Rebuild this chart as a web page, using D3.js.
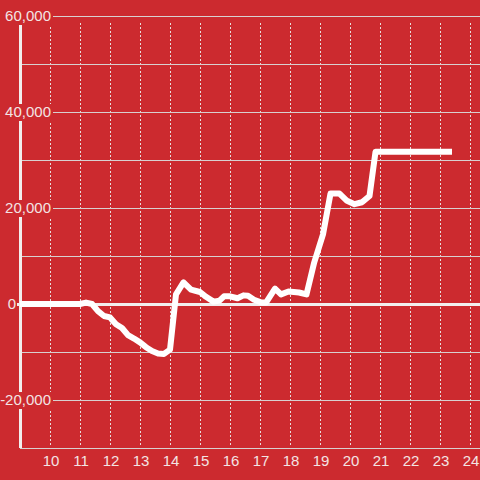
<!DOCTYPE html>
<html>
<head>
<meta charset="utf-8">
<script src="https://cdn.jsdelivr.net/npm/d3@7"></script>
<style>
  html, body { margin: 0; padding: 0; background: #cc2a2f; }
  svg { display: block; }
  text { font-family: "Liberation Sans", Arial, sans-serif; }
</style>
</head>
<body>
<div id="chart"></div>
<script>
const width = 480;
const height = 480;
const bg = "#cc2a2f";

// hour of day (decimal) and value
const hours = [9.0, 11.0, 11.2, 11.4, 11.6, 11.8, 12.0, 12.2, 12.4, 12.6, 12.8, 13.0, 13.2, 13.4, 13.6, 13.8, 14.0,
    14.2, 14.45, 14.7, 15.0, 15.2, 15.45, 15.65, 15.8, 16.0, 16.25, 16.45, 16.6, 16.8, 17.05, 17.2,
    17.5, 17.7, 17.95, 18.3, 18.55, 18.8, 19.1, 19.35, 19.65, 19.9, 20.15, 20.4, 20.65, 20.85, 23.4];
const values = [0, 0, 300, 0, -1500, -2500, -2800, -4200, -5000, -6500, -7200, -8000, -9000, -9800, -10300, -10400, -9500,
    2000, 4500, 3000, 2500, 1500, 500, 700, 1600, 1600, 1200, 1800, 1700, 900, 300, 300,
    3200, 2000, 2600, 2400, 2000, 8500, 14500, 23000, 23000, 21500, 20800, 21200, 22500, 31700, 31700];

const xTicks = [10, 11, 12, 13, 14, 15, 16, 17, 18, 19, 20, 21, 22, 23, 24];
const yGrid = [-30000, -20000, -10000, 0, 10000, 20000, 30000, 40000, 50000, 60000];
const yLabels = [-20000, 0, 20000, 40000, 60000];

const svg = d3.select("#chart")
    .append("svg")
    .attr("width", width)
    .attr("height", height);

svg.append("rect")
    .attr("width", width)
    .attr("height", height)
    .attr("fill", bg);

const x = d3.scaleLinear().domain([9, 24.3333]).range([20, 480]);
const y = d3.scaleLinear().domain([-30000, 60000]).range([448, 16]);

// vertical dotted grid
svg.append("g")
    .selectAll("line")
    .data(xTicks)
    .enter()
    .append("line")
    .attr("x1", d => x(d) + 0.5)
    .attr("x2", d => x(d) + 0.5)
    .attr("y1", 23)
    .attr("y2", 447)
    .attr("stroke", "#e6dede")
    .attr("stroke-width", 1)
    .attr("stroke-dasharray", "2,2");

// horizontal grid
svg.append("g")
    .selectAll("line")
    .data(yGrid.filter(d => d !== 0))
    .enter()
    .append("line")
    .attr("x1", 20)
    .attr("x2", width)
    .attr("y1", d => Math.round(y(d)) + 0.5)
    .attr("y2", d => Math.round(y(d)) + 0.5)
    .attr("stroke", "#d8d0d0")
    .attr("stroke-width", 1);

// left axis
svg.append("line")
    .attr("x1", 20.5)
    .attr("x2", 20.5)
    .attr("y1", y(60000))
    .attr("y2", y(-30000))
    .attr("stroke", "#f2eeee")
    .attr("stroke-width", 3);

// zero line
svg.append("line")
    .attr("x1", 17)
    .attr("x2", width)
    .attr("y1", y(0) + 0.5)
    .attr("y2", y(0) + 0.5)
    .attr("stroke", "#f2eeee")
    .attr("stroke-width", 3);

// y labels with background
const fmt = d3.format(",");
const yl = svg.append("g")
    .selectAll("g")
    .data(yLabels)
    .enter()
    .append("g")
    .attr("transform", d => `translate(0,${y(d)})`);

yl.append("rect")
    .attr("x", 0)
    .attr("y", d => d === 0 ? -7 : -8)
    .attr("width", d => d === 0 ? 17 : 53)
    .attr("height", d => d === 0 ? 0 : 17)
    .attr("fill", bg);

yl.append("text")
    .attr("x", d => d === 0 ? 16 : 51)
    .attr("dy", "0.36em")
    .attr("text-anchor", "end")
    .attr("font-size", 15)
    .attr("fill", "#f3e4e4")
    .text(d => fmt(d).replace("−", "-"));

// x labels
svg.append("g")
    .selectAll("text")
    .data(xTicks)
    .enter()
    .append("text")
    .attr("x", d => x(d) + 1)
    .attr("y", 466)
    .attr("text-anchor", "middle")
    .attr("font-size", 15)
    .attr("fill", "#f3e4e4")
    .text(d => d);

// data line
const line = d3.line()
    .x(d => x(d[0]))
    .y(d => y(d[1]));

svg.append("path")
    .datum(hours.map((h, i) => [h, values[i]]))
    .attr("d", line)
    .attr("fill", "none")
    .attr("stroke", "#ffffff")
    .attr("stroke-width", 6)
    .attr("stroke-linejoin", "round");
</script>
</body>
</html>
